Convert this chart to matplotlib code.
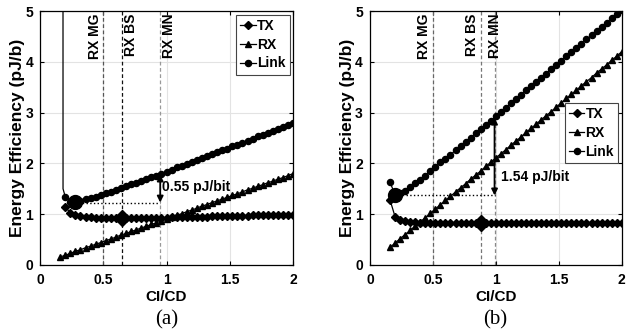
import matplotlib.pyplot as plt

plt.rcParams['font.family'] = ['Liberation Sans', 'DejaVu Sans']

# shared CI/CD grid
x = [0.16, 0.20, 0.24, 0.28, 0.32, 0.36, 0.40, 0.44, 0.48, 0.52, 0.56, 0.60,
     0.64, 0.68, 0.72, 0.76, 0.80, 0.84, 0.88, 0.92, 0.96, 1.00, 1.04, 1.08,
     1.12, 1.16, 1.20, 1.24, 1.28, 1.32, 1.36, 1.40, 1.44, 1.48, 1.52, 1.56,
     1.60, 1.64, 1.68, 1.72, 1.76, 1.80, 1.84, 1.88, 1.92, 1.96, 2.00]

# panel (a)
rx_a = [0.16, 0.19, 0.23, 0.27, 0.30, 0.34, 0.37, 0.41, 0.44, 0.48, 0.51, 0.55,
        0.59, 0.62, 0.66, 0.69, 0.73, 0.76, 0.80, 0.83, 0.87, 0.91, 0.94, 0.98,
        1.01, 1.05, 1.08, 1.12, 1.16, 1.19, 1.23, 1.26, 1.30, 1.33, 1.37, 1.40,
        1.44, 1.48, 1.51, 1.55, 1.58, 1.62, 1.65, 1.69, 1.72, 1.76, 1.80]
tx_a = [1.15, 1.02, 0.98, 0.96, 0.95, 0.94, 0.93, 0.93, 0.93, 0.93, 0.93,
        0.93, 0.93, 0.93, 0.93, 0.93, 0.93, 0.93, 0.93, 0.93, 0.93, 0.94,
        0.94, 0.94, 0.94, 0.95, 0.95, 0.95, 0.95, 0.96, 0.96, 0.96, 0.96,
        0.97, 0.97, 0.97, 0.97, 0.98, 0.98, 0.98, 0.98, 0.98, 0.99, 0.99,
        0.99, 0.99]
link_a = [1.34, 1.25, 1.25, 1.26, 1.29, 1.31, 1.34, 1.37, 1.41, 1.44, 1.48,
          1.52, 1.55, 1.59, 1.62, 1.66, 1.69, 1.73, 1.76, 1.80, 1.84, 1.88,
          1.92, 1.95, 1.99, 2.03, 2.07, 2.11, 2.14, 2.19, 2.22, 2.26, 2.29,
          2.34, 2.37, 2.41, 2.45, 2.49, 2.53, 2.56, 2.60, 2.64, 2.68, 2.71,
          2.75, 2.79]
rise_x_a = [0.178, 0.182, 0.20]
rise_y_a = [60.0, 1.50, 1.34]
vlines_a = [0.50, 0.65, 0.95]
opt_link_a = (0.28, 1.25)
opt_tx_a = (0.65, 0.93)
gap_a = (0.95, 1.23, 1.78)

# panel (b)
rx_b = [0.35, 0.43, 0.52, 0.60, 0.68, 0.77, 0.85, 0.93, 1.02, 1.10, 1.19, 1.27,
        1.35, 1.44, 1.52, 1.60, 1.69, 1.77, 1.85, 1.94, 2.02, 2.11, 2.19, 2.27,
        2.36, 2.44, 2.52, 2.61, 2.69, 2.77, 2.86, 2.94, 3.02, 3.11, 3.19, 3.28,
        3.36, 3.44, 3.53, 3.61, 3.69, 3.78, 3.86, 3.94, 4.03, 4.11, 4.20]
tx_b = [1.28, 0.95, 0.89, 0.86, 0.85, 0.84, 0.83, 0.83, 0.83, 0.83, 0.83, 0.82,
        0.82, 0.82, 0.82, 0.82, 0.82, 0.82, 0.82, 0.82, 0.82, 0.82, 0.82, 0.82,
        0.82, 0.82, 0.82, 0.83, 0.83, 0.83, 0.83, 0.83, 0.83, 0.83, 0.83, 0.83,
        0.83, 0.83, 0.83, 0.83, 0.83, 0.83, 0.83, 0.83, 0.83, 0.83, 0.83]
link_b = [1.63, 1.38, 1.41, 1.46, 1.53, 1.61, 1.68, 1.76, 1.85, 1.93, 2.02, 2.09,
          2.17, 2.26, 2.34, 2.42, 2.51, 2.59, 2.67, 2.76, 2.84, 2.93, 3.01, 3.09,
          3.18, 3.26, 3.34, 3.44, 3.52, 3.60, 3.69, 3.77, 3.85, 3.94, 4.02, 4.11,
          4.19, 4.27, 4.36, 4.44, 4.52, 4.61, 4.69, 4.77, 4.86, 4.94, 5.03]
vlines_b = [0.50, 0.88, 0.99]
opt_link_b = (0.20, 1.37)
opt_tx_b = (0.88, 0.82)
gap_b = (0.99, 1.37, 2.90)

vlabels = ['RX MG', 'RX BS', 'RX MN']
vcolors_a = ['#555555', '#111111', '#999999']
vcolors_b = ['#666666', '#777777', '#888888']
# which side of its line each label sits on: -1 left, 0 centred, 1 right
vside_a = [-1, 1, 1]
vside_b = [-1, -1, 0]

fig = plt.figure(figsize=(6.28, 3.35), dpi=100)
ax_a = fig.add_axes([0.0637, 0.209, 0.403, 0.758])
ax_b = fig.add_axes([0.589, 0.209, 0.401, 0.758])


def draw(ax, tx_x, tx, rx, lk_x, lk, vl, vcol, vside, opt_l, opt_t, gap,
         gap_txt, txt_pos, leg_loc, leg_anchor):
    for xv, lab, c, sd in zip(vl, vlabels, vcol, vside):
        ha = {-1: 'right', 0: 'center', 1: 'left'}[sd]
        ax.axvline(xv, color=c, ls=(0, (3, 2)), lw=0.9, zorder=1)
        ax.text(xv + 0.012 * sd, 4.95, lab, rotation=90, ha=ha, va='top',
                fontsize=10, fontweight='bold')
    ax.plot(tx_x, tx, color='k', marker='D', ms=3.8, lw=0.9, label='TX', zorder=3)
    ax.plot(x, rx, color='k', marker='^', ms=4.6, lw=0.9, label='RX', zorder=3)
    ax.plot(lk_x, lk, color='k', marker='o', ms=4.4, lw=0.9, label='Link', zorder=3)
    ax.plot(*opt_l, marker='o', color='k', ms=10, zorder=4)
    ax.plot(*opt_t, marker='D', color='k', ms=8, zorder=4)
    gx, y0, y1 = gap
    ax.plot([opt_l[0], gx], [y0, y0], color='k', ls=':', lw=1.0, zorder=2)
    ax.annotate('', xy=(gx, y0), xytext=(gx, y1),
                arrowprops=dict(arrowstyle='<|-|>', color='k', lw=1.3,
                                mutation_scale=9, shrinkA=0, shrinkB=0))
    ax.text(txt_pos[0], txt_pos[1], gap_txt, fontsize=10, fontweight='bold',
            va='center', ha='left')
    ax.set_xlim(0, 2)
    ax.set_ylim(0, 5)
    ax.set_xticks([0, 0.5, 1, 1.5, 2])
    ax.set_xticklabels(['0', '0.5', '1', '1.5', '2'])
    ax.set_yticks([0, 1, 2, 3, 4, 5])
    ax.grid(True, color='#e3e3e3', lw=0.8)
    ax.set_axisbelow(True)
    ax.tick_params(direction='in', top=True, right=True, labelsize=10,
                   length=3, width=0.8)
    ax.tick_params(axis='x', pad=6)
    ax.tick_params(axis='y', pad=5)
    for lbl in ax.get_xticklabels() + ax.get_yticklabels():
        lbl.set_fontweight('bold')
    for s in ax.spines.values():
        s.set_linewidth(0.9)
    ax.set_xlabel('CI/CD', fontsize=11, fontweight='bold', labelpad=2)
    ax.set_ylabel('Energy Efficiency (pJ/b)', fontsize=12.5, fontweight='bold',
                  labelpad=0)
    leg = ax.legend(loc=leg_loc, bbox_to_anchor=leg_anchor, fontsize=10,
                    handlelength=1.1, handletextpad=0.1, borderpad=0.3,
                    labelspacing=0.35, fancybox=False, framealpha=1,
                    edgecolor='#444444', borderaxespad=0.25)
    leg.get_frame().set_linewidth(0.8)
    for t in leg.get_texts():
        t.set_fontweight('bold')


draw(ax_a, x[1:], tx_a, rx_a, x[1:], link_a, vlines_a, vcolors_a, vside_a,
     opt_link_a, opt_tx_a, gap_a, '0.55 pJ/bit', (0.965, 1.53),
     'upper right', None)
ax_a.plot(rise_x_a, rise_y_a, color='k', lw=0.9, zorder=3)

draw(ax_b, x, tx_b, rx_b, x, link_b, vlines_b, vcolors_b, vside_b,
     opt_link_b, opt_tx_b, gap_b, '1.54 pJ/bit', (1.04, 1.73),
     'center right', (1.0, 0.52))

fig.text(0.266, 0.045, '(a)', fontsize=15, family='Liberation Serif',
         ha='center', va='center')
fig.text(0.789, 0.045, '(b)', fontsize=15, family='Liberation Serif',
         ha='center', va='center')

fig.savefig('out.png', dpi=100)
